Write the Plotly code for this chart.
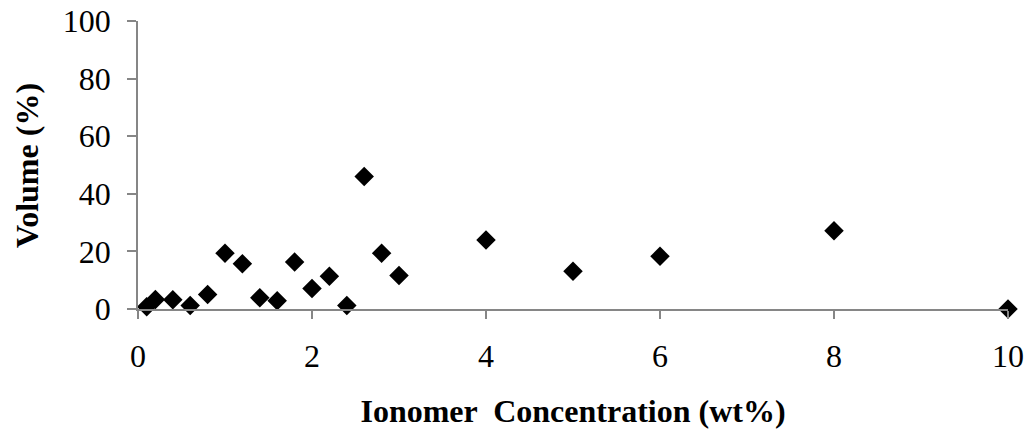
import plotly.graph_objects as go

# Ionomer concentration (wt%) and measured volume (%)
concentration = [0.1, 0.2, 0.4, 0.6, 0.8, 1.0, 1.2, 1.4, 1.6, 1.8, 2.0,
                 2.2, 2.4, 2.6, 2.8, 3.0, 4, 5, 6, 8, 10]
volume = [0.8, 3.3, 3.2, 1.2, 5.0, 19.4, 15.7, 3.9, 2.9, 16.3, 7.1,
          11.4, 1.2, 46.0, 19.4, 11.6, 24.0, 13.1, 18.3, 27.2, 0.0]

x_ticks = [0, 2, 4, 6, 8, 10]
y_ticks = [0, 20, 40, 60, 80, 100]

font_family = "Liberation Serif"
axis_grey = "#868686"

fig = go.Figure(
    go.Scatter(
        x=concentration,
        y=volume,
        mode="markers",
        marker=dict(symbol="diamond", size=15, color="black", line=dict(width=0)),
        cliponaxis=False,
        showlegend=False,
    )
)

fig.update_layout(
    width=1031,
    height=434,
    margin=dict(l=138, r=23, t=21, b=124.5),
    paper_bgcolor="white",
    plot_bgcolor="white",
    font=dict(family=font_family, size=32, color="black"),
)

fig.update_xaxes(
    range=[0, 10],
    tickvals=x_ticks,
    ticktext=[str(v) for v in x_ticks],
    showgrid=False,
    zeroline=False,
    showline=True,
    linecolor=axis_grey,
    linewidth=1.5,
    ticks="outside",
    ticklen=8,
    tickwidth=1.5,
    tickcolor=axis_grey,
    ticklabelstandoff=10,
    automargin=False,
    title=dict(
        text="<b>Ionomer  Concentration (wt%)</b>",
        font=dict(family=font_family, size=32),
        standoff=26,
    ),
)

fig.update_yaxes(
    range=[0, 100],
    tickvals=y_ticks,
    ticktext=[str(v) for v in y_ticks],
    showgrid=False,
    zeroline=False,
    showline=True,
    linecolor=axis_grey,
    linewidth=1.5,
    ticks="outside",
    ticklen=9,
    tickwidth=1.5,
    tickcolor=axis_grey,
    ticklabelstandoff=10,
    automargin=False,
)

# Vertical axis title placed in the left margin
fig.add_annotation(
    text="<b>Volume (%)</b>",
    textangle=-90,
    xref="paper",
    yref="paper",
    x=-0.1276,
    y=0.5,
    xanchor="center",
    yanchor="middle",
    showarrow=False,
    font=dict(family=font_family, size=32, color="black"),
)

fig.write_html("out.html")
